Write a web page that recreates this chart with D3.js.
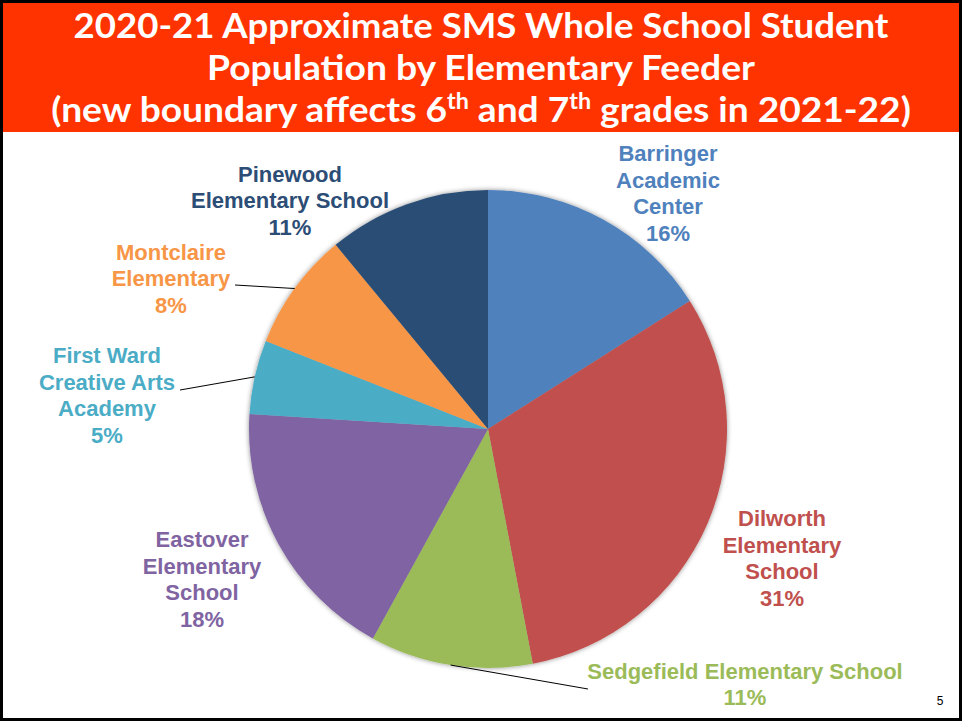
<!DOCTYPE html>
<html>
<head>
<meta charset="utf-8">
<script src="https://cdn.jsdelivr.net/npm/d3@7"></script>
<style>
  html, body { margin: 0; padding: 0; background: #fff; }
  svg { display: block; }
</style>
</head>
<body>
<div id="chart"></div>
<script>
// data
const schools = ['Barringer Academic Center', 'Dilworth Elementary School', 'Sedgefield Elementary School',
  'Eastover Elementary School', 'First Ward Creative Arts Academy', 'Montclaire Elementary', 'Pinewood Elementary School'];
const labelLines = [
  ['Barringer', 'Academic', 'Center'],
  ['Dilworth', 'Elementary', 'School'],
  ['Sedgefield Elementary School'],
  ['Eastover', 'Elementary', 'School'],
  ['First Ward', 'Creative Arts', 'Academy'],
  ['Montclaire', 'Elementary'],
  ['Pinewood', 'Elementary School']
];
const shares = [16, 31, 11, 18, 5, 8, 11];
const colors = ['#4F81BD', '#C0504D', '#9BBB59', '#8064A2', '#4BACC6', '#F79646', '#2C4D75'];

// label placement relative to pie centre, and leader line end (null = no leader)
const labelOffset = [[180, -236], [294, 129], [257, 255], [-286, 150], [-381, -34], [-317, -151], [-198, -229]];
const leaderEnd = [null, null, [100, 260], null, [-308, -39], [-253, -144], null];

const titleLines = ['2020-21 Approximate SMS Whole School Student', 'Population by Elementary Feeder'];

const W = 962, H = 721;
const cx = 488, cy = 429, R = 239;

const svg = d3.select('#chart').append('svg')
  .attr('width', W)
  .attr('height', H);

const defs = svg.append('defs');
const shadow = defs.append('filter').attr('id', 'shadow')
  .attr('x', '-10%').attr('y', '-10%').attr('width', '120%').attr('height', '120%');
shadow.append('feDropShadow')
  .attr('dx', 0).attr('dy', 0)
  .attr('stdDeviation', 2.5)
  .attr('flood-color', '#000')
  .attr('flood-opacity', 0.45);

// slide frame
svg.append('rect')
  .attr('x', 1.5).attr('y', 1.5)
  .attr('width', W - 3).attr('height', H - 3)
  .attr('fill', '#fff')
  .attr('stroke', '#000')
  .attr('stroke-width', 3);

// title banner
svg.append('rect')
  .attr('x', 3).attr('y', 3)
  .attr('width', W - 6).attr('height', 129)
  .attr('fill', '#FF3300');

const titleFont = 'Lato, Calibri, "Open Sans", sans-serif';
const titleWidths = [815, 548, 860];
const titleBase = [38, 80, 122];

function fitTitle(t, i) {
  const w = t.node().getBBox().width;
  const k = titleWidths[i] / w;
  t.attr('transform', `translate(${W / 2},${titleBase[i]}) scale(${k},1)`);
}

titleLines.forEach((line, i) => {
  const t = svg.append('text')
    .attr('text-anchor', 'middle')
    .attr('font-family', titleFont)
    .attr('font-weight', 'bold')
    .attr('font-size', 35)
    .attr('fill', '#fff')
    .text(line);
  fitTitle(t, i);
});

const t3 = svg.append('text')
  .attr('text-anchor', 'middle')
  .attr('font-family', titleFont)
  .attr('font-weight', 'bold')
  .attr('font-size', 35)
  .attr('fill', '#fff');
t3.append('tspan').text('(new boundary affects 6');
t3.append('tspan').attr('font-size', 22).attr('dy', -13).text('th');
t3.append('tspan').attr('dy', 13).text(' and 7');
t3.append('tspan').attr('font-size', 22).attr('dy', -13).text('th');
t3.append('tspan').attr('dy', 13).text(' grades in 2021-22)');
fitTitle(t3, 2);

// pie
const pie = d3.pie().sort(null).value(d => d)(shares);
const arc = d3.arc().innerRadius(0).outerRadius(R);

const g = svg.append('g').attr('transform', `translate(${cx},${cy})`);

g.append('g')
  .attr('filter', 'url(#shadow)')
  .selectAll('path')
  .data(pie)
  .enter()
  .append('path')
  .attr('d', arc)
  .attr('fill', (d, i) => colors[i]);

// leader lines
pie.forEach((d, i) => {
  if (!leaderEnd[i]) return;
  const a = (d.startAngle + d.endAngle) / 2;
  g.append('line')
    .attr('x1', Math.sin(a) * R)
    .attr('y1', -Math.cos(a) * R)
    .attr('x2', leaderEnd[i][0])
    .attr('y2', leaderEnd[i][1])
    .attr('stroke', '#000')
    .attr('stroke-width', 1);
});

// labels
const lineH = 26.5;
pie.forEach((d, i) => {
  const lines = labelLines[i].concat([shares[i] + '%']);
  const [ox, oy] = labelOffset[i];
  const t = g.append('text')
    .attr('text-anchor', 'middle')
    .attr('font-family', '"Liberation Sans", Arial, sans-serif')
    .attr('font-weight', 'bold')
    .attr('font-size', 22)
    .attr('fill', colors[i]);
  const top = oy - (lines.length - 1) * lineH / 2;
  lines.forEach((l, j) => {
    t.append('tspan')
      .attr('x', ox)
      .attr('y', top + j * lineH + 8)
      .text(l);
  });
});

// page number
svg.append('text')
  .attr('x', 940)
  .attr('y', 705)
  .attr('text-anchor', 'middle')
  .attr('font-family', '"Liberation Sans", Arial, sans-serif')
  .attr('font-size', 12)
  .attr('fill', '#000')
  .text('5');
</script>
</body>
</html>
